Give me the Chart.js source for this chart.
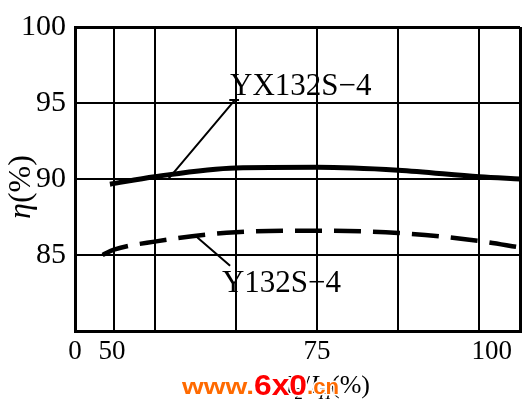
<!DOCTYPE html>
<html lang="zh">
<head>
<meta charset="UTF-8">
<title>η - I2/IH</title>
<script src="https://cdn.jsdelivr.net/npm/chart.js"></script>
<style>
    body { margin: 0; background: #fff; }
    #wrap { width: 528px; height: 410px; }
</style>
</head>
<body>
<div id="wrap"><canvas id="effChart" width="528" height="410"></canvas></div>
<script>
// load ratio I2/IH (%) and efficiency (%)
const xTickValues = [45.2, 50, 55, 65, 75, 85, 95, 100];
const xTickLabels = ['0', '50', '', '', '75', '', '', '100'];
const yxLoad = [49.5, 55, 65, 75, 85, 95, 100];
const yxEff = [89.66, 90.15, 90.73, 90.77, 90.58, 90.15, 90.0];
const yLoad = [48.6, 50, 55, 65, 75, 85, 95, 100];
const yEff = [85.0, 85.35, 85.88, 86.5, 86.6, 86.45, 85.92, 85.5];
const seriesNames = ['YX132S\u22124', 'Y132S\u22124'];

const SERIF = '"Liberation Serif", "DejaVu Serif", serif';
const SANS = '"Liberation Sans", Arial, sans-serif';

// text, leader lines, axis labels and the site stamp
const extras = {
    id: 'extras',
    afterDraw(chart) {
        const ctx = chart.ctx;
        const xs = chart.scales.x, ys = chart.scales.y;
        const px = v => xs.getPixelForValue(v);
        const py = v => ys.getPixelForValue(v);
        ctx.save();
        ctx.fillStyle = '#000';
        ctx.strokeStyle = '#000';

        // x tick labels
        ctx.font = '27px ' + SERIF;
        ctx.textBaseline = 'alphabetic';
        xTickValues.forEach((v, i) => {
            if (!xTickLabels[i]) return;
            const last = i === xTickValues.length - 1;
            ctx.textAlign = last ? 'right' : 'center';
            ctx.fillText(xTickLabels[i], last ? px(v) - 8 : px(v) - (i === 1 ? 2 : 0), 359);
        });

        // series labels with leader lines
        ctx.lineWidth = 2;
        ctx.beginPath();
        ctx.moveTo(px(64.9), py(95.2));
        ctx.lineTo(px(56.65), py(89.97));
        ctx.moveTo(px(64.2), py(95.2));
        ctx.lineTo(px(65.4), py(95.2));
        ctx.moveTo(px(60.2), py(86.18));
        ctx.lineTo(px(64.3), py(84.29));
        ctx.stroke();
        ctx.font = '31px ' + SERIF;
        ctx.textAlign = 'left';
        ctx.fillText(seriesNames[0], px(64.3), py(95.52));
        ctx.fillText(seriesNames[1], px(63.3), py(82.59));

        // y title
        ctx.save();
        ctx.translate(30, 187);
        ctx.rotate(-Math.PI / 2);
        ctx.font = 'italic 32px ' + SERIF;
        const wEta = ctx.measureText('\u03b7').width;
        ctx.font = '32px ' + SERIF;
        const wPct = ctx.measureText('(%)').width;
        const sx = -(wEta + wPct) / 2;
        ctx.font = 'italic 32px ' + SERIF;
        ctx.fillText('\u03b7', sx, 0);
        ctx.font = '32px ' + SERIF;
        ctx.fillText('(%)', sx + wEta, 0);
        ctx.restore();

        // x title: I2/IH(%)
        const parts = [
            ['I', 'italic 26px ' + SERIF, 0],
            ['2', '17px ' + SERIF, 6],
            ['/', '26px ' + SERIF, 0],
            ['I', 'italic 26px ' + SERIF, 0],
            ['H', 'italic 17px ' + SERIF, 6],
            ['(%)', '26px ' + SERIF, 0]
        ];
        let total = 0;
        parts.forEach(p => { ctx.font = p[1]; total += ctx.measureText(p[0]).width; });
        let tx = 370 - total;
        parts.forEach(p => {
            ctx.font = p[1];
            ctx.fillText(p[0], tx, 393 + p[2]);
            tx += ctx.measureText(p[0]).width;
        });

        // site stamp: text, font, colour, drawn width, baseline
        const stamp = [
            ['www.', 'bold 22px ' + SANS, '#ff6a00', 72, 394],
            ['6x0', 'bold 30px ' + SANS, '#ff0000', 53, 395],
            ['.cn', 'bold 22px ' + SANS, '#ff6a00', 32, 394]
        ];
        let wx = 182;
        ctx.lineJoin = 'round';
        stamp.forEach(s => {
            ctx.font = s[1];
            const k = s[3] / ctx.measureText(s[0]).width;
            ctx.save();
            ctx.translate(wx, s[4]);
            ctx.scale(k, 1);
            ctx.lineWidth = 3;
            ctx.strokeStyle = '#fff';
            ctx.strokeText(s[0], 0, 0);
            ctx.fillStyle = s[2];
            ctx.fillText(s[0], 0, 0);
            ctx.restore();
            wx += s[3];
        });
        ctx.restore();
    }
};

new Chart(document.getElementById('effChart'), {
    type: 'line',
    data: {
        datasets: [
            {
                label: seriesNames[0],
                data: yxLoad.map((x, i) => ({ x: x, y: yxEff[i] })),
                borderColor: '#000',
                borderWidth: 5,
                pointRadius: 0,
                cubicInterpolationMode: 'monotone',
                fill: false
            },
            {
                label: seriesNames[1],
                data: yLoad.map((x, i) => ({ x: x, y: yEff[i] })),
                borderColor: '#000',
                borderWidth: 4.5,
                borderDash: [27, 12],
                pointRadius: 0,
                cubicInterpolationMode: 'monotone',
                fill: false
            }
        ]
    },
    options: {
        responsive: false,
        animation: false,
        layout: { padding: { top: 14, right: 8, left: 0, bottom: 0 } },
        plugins: {
            legend: { display: false },
            tooltip: { enabled: false }
        },
        scales: {
            x: {
                type: 'linear',
                min: 45.2,
                max: 100,
                afterBuildTicks: scale => { scale.ticks = xTickValues.map(v => ({ value: v })); },
                afterFit: scale => { scale.height = 79; },
                ticks: { display: false },
                grid: {
                    color: '#000',
                    lineWidth: c => (c.index === 0 || c.index === xTickValues.length - 1) ? 3 : 2,
                    drawTicks: false
                },
                border: { color: '#000', width: 3 }
            },
            y: {
                min: 80,
                max: 100,
                afterFit: scale => { scale.width = 75; },
                ticks: {
                    stepSize: 5,
                    padding: 9,
                    color: '#000',
                    font: { family: SERIF, size: 30 },
                    callback: v => v === 80 ? '' : v
                },
                grid: {
                    color: '#000',
                    lineWidth: c => c.tick.value === 100 ? 3 : 2,
                    drawTicks: false
                },
                border: { color: '#000', width: 3 }
            }
        }
    },
    plugins: [extras]
});
</script>
</body>
</html>
